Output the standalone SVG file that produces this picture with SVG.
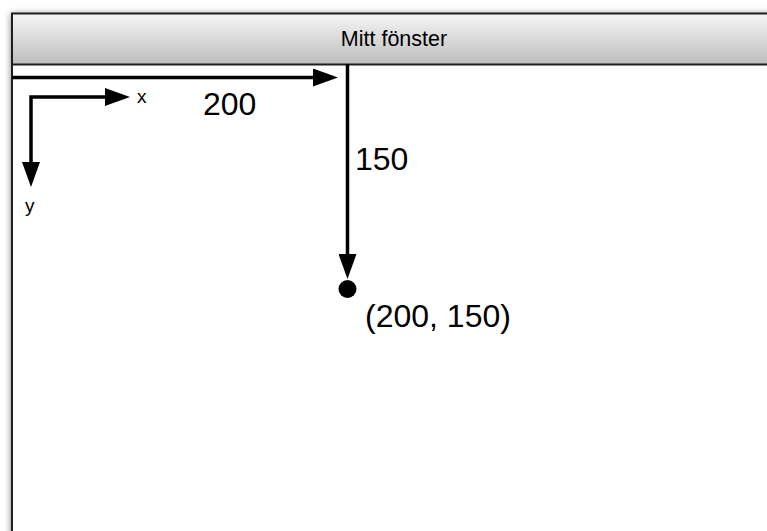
<svg xmlns="http://www.w3.org/2000/svg" width="767" height="531" viewBox="0 0 767 531">
  <defs>
    <linearGradient id="titleGrad" x1="0" y1="0" x2="0" y2="1">
      <stop offset="0" stop-color="#f6f6f6"/>
      <stop offset="1" stop-color="#bdbdbd"/>
    </linearGradient>
    <filter id="shadow" x="-0.1" y="-0.1" width="1.2" height="1.2">
      <feGaussianBlur stdDeviation="3.5"/>
    </filter>
    <marker id="head" viewBox="0 0 25 18" refX="15" refY="9" markerWidth="25" markerHeight="18" markerUnits="userSpaceOnUse" orient="auto-start-reverse">
      <path d="M0,0 L25,9 L0,18 Z" fill="#000"/>
    </marker>
  </defs>
  <style>
    .axis { fill: none; stroke: #000; stroke-width: 3.5; }
    .lbl { font-family: "Liberation Sans", Arial, Helvetica, sans-serif; fill: #000; }
    .big { font-size: 32px; }
  </style>

  <rect width="767" height="531" fill="#fff"/>

  <!-- window frame with soft drop shadow -->
  <g id="window">
    <rect x="11" y="14" width="820" height="600" fill="#000" opacity="0.5" filter="url(#shadow)"/>
    <rect x="12" y="13.5" width="820" height="600" fill="#fff"/>
    <rect x="12" y="13.5" width="820" height="51" fill="url(#titleGrad)"/>
    <line x1="12" y1="64.5" x2="767" y2="64.5" stroke="#1e1e1e" stroke-width="2"/>
    <rect x="12" y="13.5" width="820" height="600" fill="none" stroke="#1e1e1e" stroke-width="2"/>
    <text class="lbl" x="394" y="45.5" font-size="21.5" text-anchor="middle">Mitt fönster</text>
  </g>

  <!-- coordinate axes legend and measurements -->
  <g id="connectors">
    <path class="axis" d="M120,97 H31 V177" marker-start="url(#head)" marker-end="url(#head)"/>
    <path class="axis" d="M12,77.5 H328" marker-end="url(#head)"/>
    <path class="axis" d="M347.5,64 V269" marker-end="url(#head)"/>
  </g>

  <g id="axis-labels">
    <text class="lbl" x="137" y="102.5" font-size="19">x</text>
    <text class="lbl" x="25" y="212" font-size="19">y</text>
  </g>

  <g id="measure-x">
    <text class="lbl big" x="203" y="115">200</text>
  </g>
  <g id="measure-y">
    <text class="lbl big" x="355" y="170">150</text>
  </g>

  <g id="point">
    <circle cx="347.5" cy="289" r="9" fill="#000"/>
    <text class="lbl big" x="365" y="327">(200, 150)</text>
  </g>
</svg>
